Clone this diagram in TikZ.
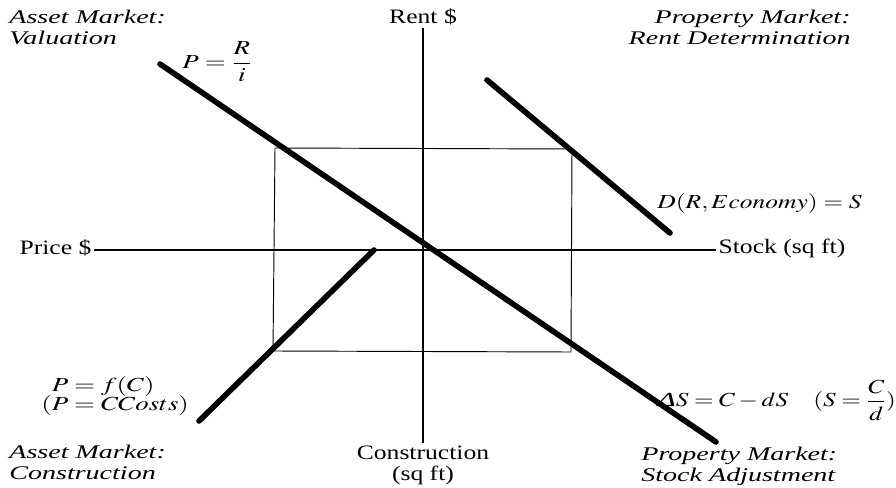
\documentclass[tikz,border=0pt]{standalone}
\usepackage{amsmath}
\usepackage{mathptmx}
\usepackage{fontspec}
\usepackage{graphicx}
\setmainfont{Liberation Serif}[FakeStretch=1.25]
\newfontfamily\quadfont{Liberation Serif}[FakeStretch=1.45]
\newcommand{\widemath}[2][1.35]{\scalebox{#1}[1]{#2}}

\tikzset{
  curve/.style={line width=4.8pt, line cap=round},
  axis/.style={line width=1.1pt},
  quadtitle/.style={font=\quadfont\fontsize{16.5}{17.5}\selectfont\itshape, inner sep=1pt},
  axislabel/.style={font=\fontsize{17.5}{18}\selectfont, inner sep=2pt},
  formula/.style={font=\fontsize{17}{17}\selectfont, inner sep=1pt}
}

\begin{document}
\begin{tikzpicture}[x=0.03cm, y=-0.03cm]
\path[use as bounding box] (0,0) rectangle (896,488);

% quadrant titles
\node[quadtitle, align=left, anchor=north west] (valtitle) at (8,9) {Asset Market:\\Valuation};
\node[quadtitle, align=right, anchor=north east] (renttitle) at (852,9) {Property Market:\\Rent Determination};
\node[quadtitle, align=left, anchor=north west] (contitle) at (8,444) {Asset Market:\\Construction};
\node[quadtitle, align=left, anchor=north west] (stocktitle) at (640,446) {Property Market:\\Stock Adjustment};

% axes
\node[axislabel] (rent) at (423,17) {Rent \$};
\node[axislabel, align=center, anchor=north] (constr) at (423,443) {Construction\\(sq ft)};
\node[axislabel, anchor=east] (price) at (94,248) {Price \$};
\node[axislabel, anchor=west] (stock) at (716,248) {Stock (sq ft)};
\draw[axis] (rent.south) -- (constr.north);
\draw[axis] (price.east |- 0,250) -- (stock.west |- 0,250);

% the four-quadrant rectangle
\coordinate (tl) at (275,148);
\coordinate (tr) at (572,149);
\coordinate (bl) at (273,351);
\coordinate (br) at (571,352);
\draw[line width=0.8pt] (tl) -- (tr) -- (br) -- (bl) -- cycle;

% market curves
\coordinate (v1) at (160,64);
\coordinate (v2) at (716,442);
\draw[curve] (v1) -- (v2);
\coordinate (d1) at (487,80);
\coordinate (d2) at (670,233);
\draw[curve] (d1) -- (d2);
\coordinate (c1) at (374,250);
\coordinate (c2) at (199,421);
\draw[curve] (c1) -- (c2);

% equations
\node[formula, anchor=west] (valeq) at (181,62) {\widemath{$P=\dfrac{R}{i}$}};
\node[formula, anchor=west] (demeq) at (656,204) {\widemath[1.28]{$D(R,Economy)=S$}};
\node[formula, align=left, anchor=west] (coneq) at (40,396) {\widemath{$\phantom{(}P=f(C)$}\\\widemath{$(P=CCosts)$}};
\node[formula, anchor=west] (stockeq) at (656,400) {\widemath[1.26]{$\text{\itshape Δ}S=C-dS\quad(S=\dfrac{C}{d})$}};
\end{tikzpicture}
\end{document}
